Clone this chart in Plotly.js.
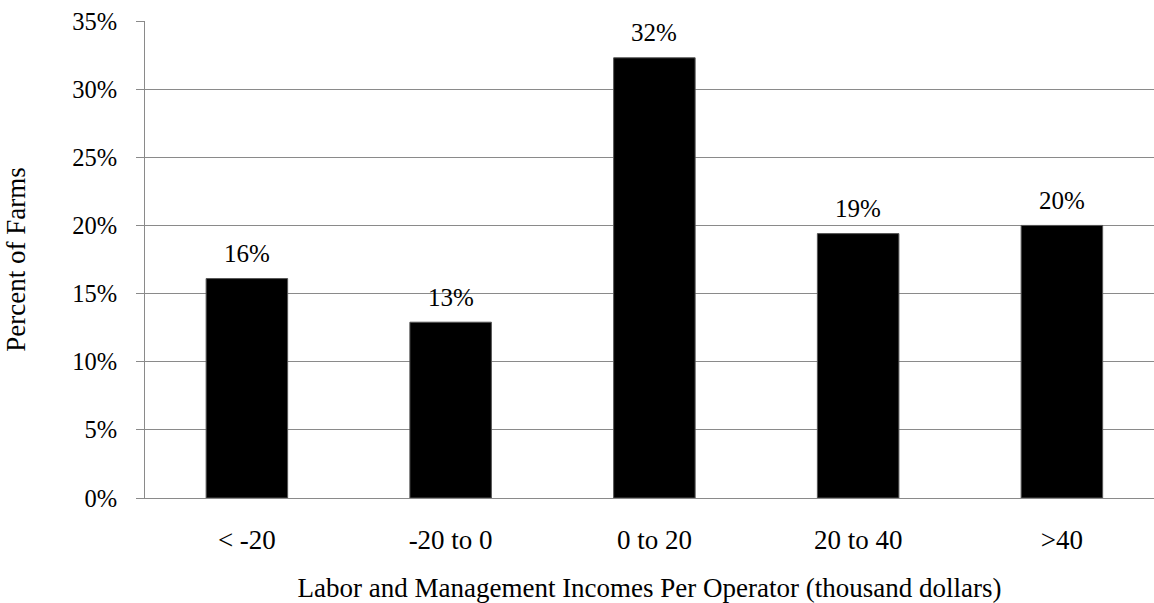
<!DOCTYPE html>
<html>
<head>
<meta charset="utf-8">
<script src="https://cdn.plot.ly/plotly-3.0.1.min.js"></script>
<style>
  html, body { margin: 0; padding: 0; background: #ffffff; }
  #chart { width: 1154px; height: 603px; }
</style>
</head>
<body>
<div id="chart"></div>
<script>
// Share of farms by labor and management income per operator
const incomeBands = ['< -20', '-20 to 0', '0 to 20', '20 to 40', '>40'];
const percentOfFarms = [16.1, 12.9, 32.3, 19.4, 20.0];
const yTickValues = [0, 5, 10, 15, 20, 25, 30, 35];

const serif = 'Liberation Serif, Times New Roman, serif';
const gridGray = '#8a8a8a';

const bars = {
  type: 'bar',
  x: incomeBands,
  y: percentOfFarms,
  width: 0.4,
  marker: { color: '#000000', line: { color: '#555555', width: 1 } },
  hoverinfo: 'skip'
};

// Value labels above each bar
const valueLabels = incomeBands.map((band, i) => ({
  x: band,
  y: percentOfFarms[i],
  xref: 'x',
  yref: 'y',
  text: Math.round(percentOfFarms[i]) + '%',
  showarrow: false,
  yanchor: 'middle',
  yshift: 25,
  font: { family: serif, size: 25, color: '#000000' }
}));

const layout = {
  width: 1154,
  height: 603,
  margin: { l: 145, r: 0, t: 21, b: 105 },
  paper_bgcolor: '#ffffff',
  plot_bgcolor: '#ffffff',
  showlegend: false,
  font: { family: serif, size: 25, color: '#000000' },
  xaxis: {
    type: 'category',
    range: [-0.5, 4.452],
    showline: true,
    linecolor: gridGray,
    linewidth: 1,
    ticks: '',
    showgrid: false,
    zeroline: false,
    ticklabelstandoff: 18,
    tickfont: { family: serif, size: 27, color: '#000000' },
    title: {
      text: 'Labor and Management Incomes Per Operator (thousand dollars)',
      font: { family: serif, size: 27, color: '#000000' },
      standoff: 23
    },
    automargin: false,
    fixedrange: true
  },
  yaxis: {
    range: [0, 35],
    tickvals: yTickValues,
    ticktext: yTickValues.map(v => v + '%'),
    showline: true,
    linecolor: gridGray,
    linewidth: 1,
    showgrid: true,
    gridcolor: gridGray,
    gridwidth: 1,
    zeroline: false,
    ticks: 'outside',
    ticklen: 8,
    tickcolor: gridGray,
    tickwidth: 1,
    ticklabelstandoff: 14,
    tickfont: { family: serif, size: 24.5, color: '#000000' },
    title: {
      text: 'Percent of Farms',
      font: { family: serif, size: 27, color: '#000000' },
      standoff: 38
    },
    automargin: false,
    fixedrange: true
  },
  annotations: valueLabels
};

Plotly.newPlot('chart', [bars], layout, { displayModeBar: false, staticPlot: true });
</script>
</body>
</html>
